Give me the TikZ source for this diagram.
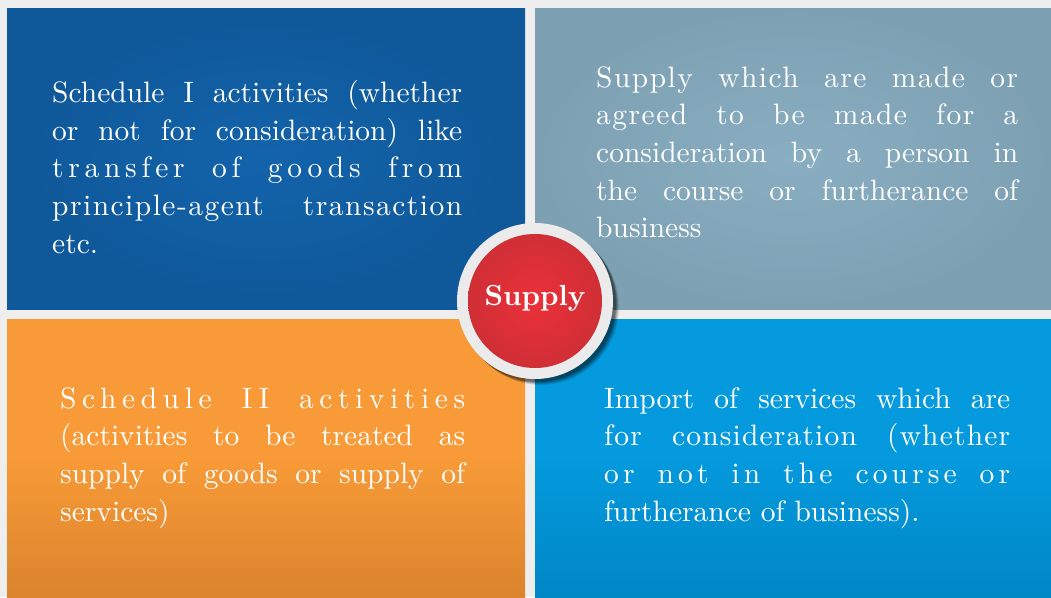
\documentclass[tikz,border=0pt]{standalone}
\usepackage{fontspec}
\setmainfont{lmroman10-regular.otf}[BoldFont=lmroman10-bold.otf]
\definecolor{bggrey}{HTML}{EEEEEE}
\definecolor{tlblue}{HTML}{1363AB}
\definecolor{tlbluedark}{HTML}{0F5899}
\definecolor{trgrey}{HTML}{8AAEC1}
\definecolor{trgreydark}{HTML}{7DA0B3}
\definecolor{blorange}{HTML}{F89A37}
\definecolor{blorangedark}{HTML}{DB842D}
\definecolor{brblue}{HTML}{049ADD}
\definecolor{brbluedark}{HTML}{0087C6}
\definecolor{ringgrey}{HTML}{EBEBEB}
\definecolor{supplyred}{HTML}{EC3039}
\definecolor{supplyreddark}{HTML}{D02F36}
\newcommand{\jline}[2]{\makebox[#1][s]{#2}}
\newcommand{\spread}[1]{\addfontfeature{LetterSpace=#1}}
\begin{document}
\begin{tikzpicture}[x=1pt,y=-1pt,
	quadtext/.style={anchor=north west, inner sep=0pt, align=left, text=white,
		font=\fontsize{29.5}{37.7}\selectfont}]
	\useasboundingbox (0,0) rectangle (1051,597);
	\fill[bggrey] (0,0) rectangle (1051,597);
	% the four quarters
	\shade[inner color=tlblue, outer color=tlbluedark] (7,8) rectangle (525,309);
	\shade[inner color=trgrey, outer color=trgreydark] (535,8) rectangle (1051,309);
	\shade[top color=blorange, bottom color=blorangedark, middle color=blorange] (7,319) rectangle (525,597);
	\shade[top color=brblue, bottom color=brbluedark, middle color=brblue] (535,319) rectangle (1051,597);
	\node[quadtext] (tltext) at (52,80) {%
		\jline{410pt}{Schedule I activities (whether}\\
		\jline{410pt}{or not for consideration) like}\\
		\jline{410pt}{\spread{16}transfer of goods from}\\
		\jline{410pt}{\spread{5}principle-agent transaction}\\
		etc.};
	\node[quadtext] (trtext) at (596,66) {%
		\jline{422pt}{\spread{5}Supply which are made or}\\
		\jline{422pt}{\spread{5}agreed to be made for a}\\
		\jline{422pt}{consideration by a person in}\\
		\jline{422pt}{the course or furtherance of}\\
		business};
	\node[quadtext] (bltext) at (60,387) {%
		\jline{405pt}{\spread{19}Schedule II activities}\\
		\jline{405pt}{(activities to be treated as}\\
		\jline{405pt}{supply of goods or supply of}\\
		services)};
	\node[quadtext] (brtext) at (604,387) {%
		\jline{406pt}{Import of services which are}\\
		\jline{406pt}{\spread{4}for consideration (whether}\\
		\jline{406pt}{\spread{14}or not in the course or}\\
		furtherance of business).};
	% centre circle
	\foreach \o/\op in {6/0.10,5/0.15,4/0.2,3/0.25}
		\fill[black, opacity=\op] (535+\o,301+\o) circle (78pt);
	\fill[ringgrey] (535,301) circle (78pt);
	\shade[inner color=supplyred, outer color=supplyreddark] (535,301) circle (67pt);
	\node[text=white, font=\fontsize{29}{34}\selectfont\bfseries] (supply) at (535,298) {Supply};
\end{tikzpicture}
\end{document}
